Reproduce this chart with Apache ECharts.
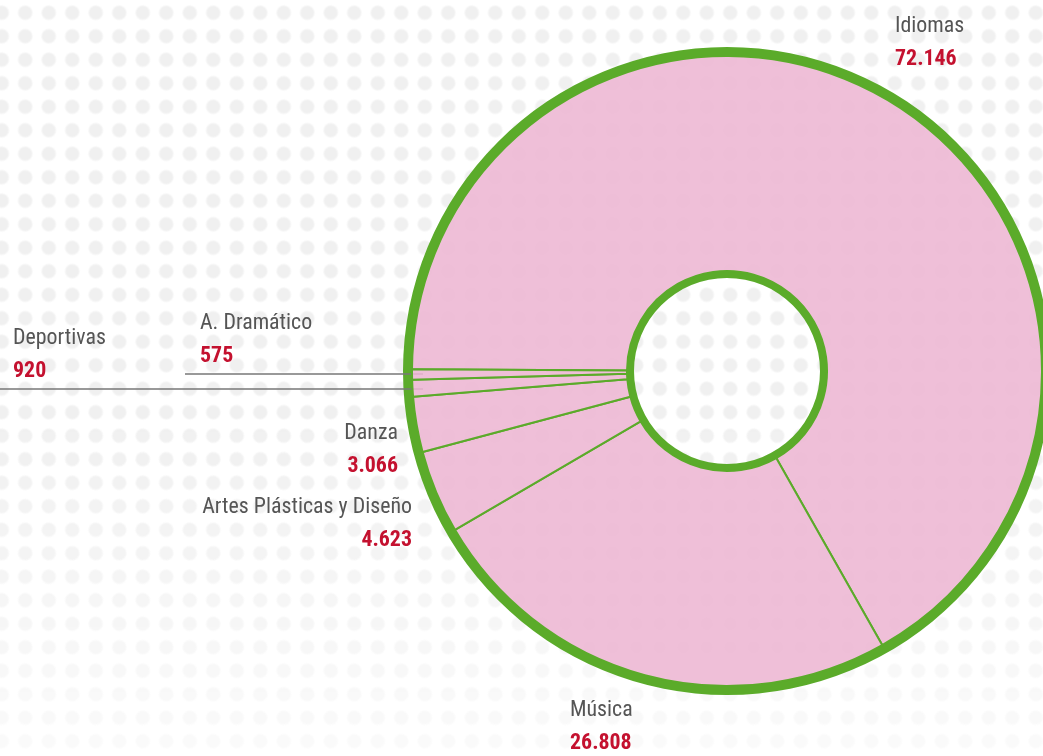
<!DOCTYPE html>
<html>
<head>
<meta charset="utf-8">
<title>Alumnado por enseñanza</title>
<script src="https://cdn.jsdelivr.net/npm/echarts@6/dist/echarts.min.js"></script>
<style>
  html, body { margin: 0; padding: 0; background: #fff; }
  #bg {
    position: absolute; left: 0; top: 0; width: 1043px; height: 756px;
    background-image: radial-gradient(circle, #f0f0f0 0, #f0f0f0 6px, rgba(255,255,255,0) 8px);
    background-size: 23.5px 23.5px;
    background-position: -10px 1px;
    -webkit-mask-image: linear-gradient(to bottom, #000 0%, #000 55%, rgba(0,0,0,0.3) 100%);
    mask-image: linear-gradient(to bottom, #000 0%, #000 55%, rgba(0,0,0,0.3) 100%);
  }
  #chart { position: absolute; left: 0; top: 0; width: 1043px; height: 756px; }
</style>
</head>
<body>
<div id="bg"></div>
<div id="chart"></div>
<script>
// datos: alumnado por tipo de enseñanza
var categories = ['Idiomas', 'Música', 'Artes Plásticas y Diseño', 'Danza', 'Deportivas', 'A. Dramático']
var values = [72146, 26808, 4623, 3066, 920, 575]

// posición de las etiquetas (x, centro vertical del bloque, alineación)
var labelPos = [
  { x: 895, y: 43, align: 'left' },
  { x: 570, y: 727, align: 'left' },
  { x: 412, y: 524, align: 'right' },
  { x: 398, y: 450, align: 'right' },
  { x: 13, y: 355, align: 'left', line: [[423, 389], [0, 389], [0, 389]] },
  { x: 200, y: 340, align: 'left', line: [[423, 374], [185, 374], [185, 374]] }
]

var GREEN = '#5bab2a'

// buscar una fuente estrecha instalada
function hasFont(name) {
  var c = document.createElement('canvas').getContext('2d')
  var s = 'Artes Plásticas y Diseño mmwwlli 0123'
  return ['monospace', 'serif'].some(function (b) {
    c.font = '40px ' + b
    var w0 = c.measureText(s).width
    c.font = "40px '" + name + "', " + b
    return Math.abs(c.measureText(s).width - w0) > 0.5
  })
}
var candidates = ['Roboto Condensed', 'Liberation Sans Narrow', 'Open Sans Condensed', 'Noto Sans Condensed', 'DejaVu Sans Condensed', 'Liberation Sans']
var fontName = 'sans-serif'
for (var k = 0; k < candidates.length; k++) {
  if (hasFont(candidates[k])) { fontName = candidates[k]; break }
}
var FONT = "'" + fontName + "', sans-serif"
var fontSize = (function () {
  var c = document.createElement('canvas').getContext('2d')
  c.font = '100px ' + FONT
  var w = c.measureText('Artes Plásticas y Diseño').width
  return Math.min(24, Math.round(210 / w * 1000) / 10)
})()

function fmt(n) {
  return String(n).replace(/\B(?=(\d{3})+(?!\d))/g, '.')
}

var pieData = categories.map(function (name, i) {
  return {
    name: name,
    value: values[i],
    labelLine: { show: !!labelPos[i].line }
  }
})

var chart = echarts.init(document.getElementById('chart'), null, { renderer: 'canvas' })

chart.setOption({
  animation: false,
  series: [
    {
      type: 'pie',
      z: 3,
      center: [727, 371],
      radius: [100, 315],
      startAngle: 179.7,
      clockwise: true,
      avoidLabelOverlap: false,
      silent: true,
      itemStyle: {
        color: 'rgba(237,182,211,0.88)',
        borderColor: GREEN,
        borderWidth: 2
      },
      label: {
        show: true,
        position: 'outside',
        fontFamily: FONT,
        formatter: function (p) {
          return '{n|' + p.name + '}\n{v|' + fmt(p.value) + '}'
        },
        rich: {
          n: { fontFamily: FONT, fontSize: fontSize, color: '#555555', lineHeight: 33 },
          v: { fontFamily: FONT, fontSize: fontSize, fontWeight: 'bold', color: '#c4112f', lineHeight: 33 }
        }
      },
      labelLine: {
        show: true,
        lineStyle: { color: '#777777', width: 1.5 }
      },
      labelLayout: function (params) {
        var p = labelPos[params.dataIndex]
        var res = { x: p.x, y: p.y, align: p.align, verticalAlign: 'middle', hideOverlap: false }
        if (p.line) res.labelLinePoints = p.line
        return res
      },
      data: pieData
    },
    {
      // anillo exterior
      type: 'pie',
      z: 1,
      center: [727, 371],
      radius: [315, 324],
      silent: true,
      label: { show: false },
      labelLine: { show: false },
      itemStyle: { color: GREEN },
      data: [{ value: 1 }]
    },
    {
      // anillo interior
      type: 'pie',
      z: 1,
      center: [727, 371],
      radius: [93, 100],
      silent: true,
      label: { show: false },
      labelLine: { show: false },
      itemStyle: { color: GREEN },
      data: [{ value: 1 }]
    }
  ]
})
</script>
</body>
</html>
